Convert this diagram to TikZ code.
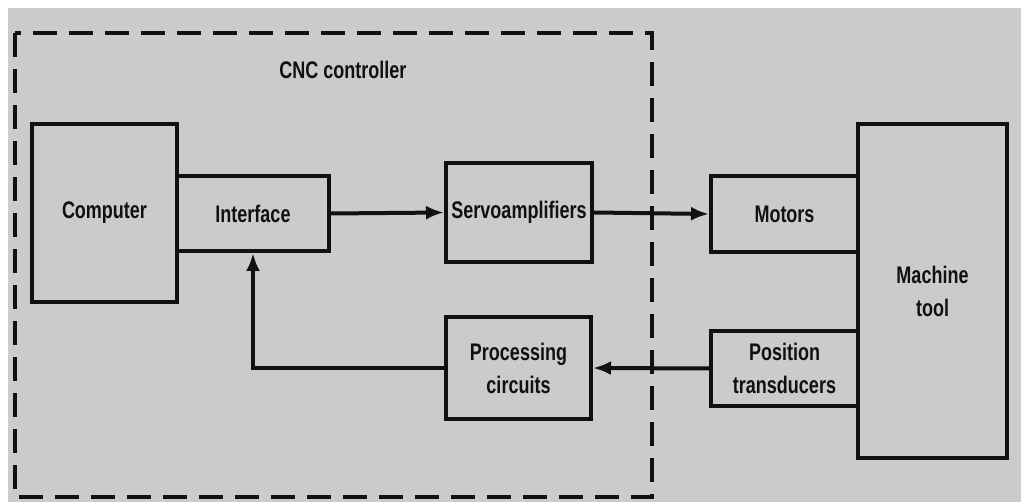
\documentclass[tikz,border=0pt]{standalone}
\usepackage{fontspec}
\setmainfont{Liberation Sans}[FakeStretch=0.75]
\usetikzlibrary{arrows.meta}
\definecolor{bggrey}{RGB}{203,203,203}
\definecolor{ink}{RGB}{17,17,17}
\tikzset{
	blk/.style={draw=ink,line width=4pt,inner sep=0pt,align=center,text=ink,
		font=\fontsize{24}{33}\selectfont\bfseries},
	arr/.style={draw=ink,line width=4pt,-{Latex[length=18pt,width=14pt]}}
}
\begin{document}
\begin{tikzpicture}[x=1pt,y=-1pt]
	    \useasboundingbox (0,0) rectangle (1021,502);
	    \fill[white](0,0) rectangle (1021,502);
	    \fill[bggrey](8,8) rectangle (1021,502);
	    \draw[ink,line width=4pt,dash pattern=on 24pt off 12pt](15,33) rectangle (652,497);
	    \node[text=ink,font=\fontsize{24}{28}\selectfont\bfseries] (cnc) at (343,70) {CNC controller};
	    \node[blk,minimum width=145pt,minimum height=178pt] (comp) at (104.5,213) {Computer};
	    \node[blk,minimum width=152pt,minimum height=75pt] (iface) at (253,213.5) {Interface};
	    \node[blk,minimum width=146pt,minimum height=99pt] (servo) at (519,212.5) {Servoamplifiers};
	    \node[blk,minimum width=147pt,minimum height=76pt] (motor) at (784.5,214) {Motors};
	    \node[blk,minimum width=149pt,minimum height=334pt] (mach) at (932.5,291) {Machine\\tool};
	    \node[blk,minimum width=147pt,minimum height=75pt] (pos) at (784.5,368.5) {Position\\transducers};
	    \node[blk,minimum width=145pt,minimum height=102pt] (proc) at (518.5,368) {Processing\\circuits};
	    \draw[arr](iface.east)--(servo.west);
	    \draw[arr](servo.east)--(motor.west);
	    \draw[arr](pos.west)--(proc.west-|proc.east);
	    \draw[arr](proc.west)-|(iface.south);
	\end{tikzpicture}
\end{document}
